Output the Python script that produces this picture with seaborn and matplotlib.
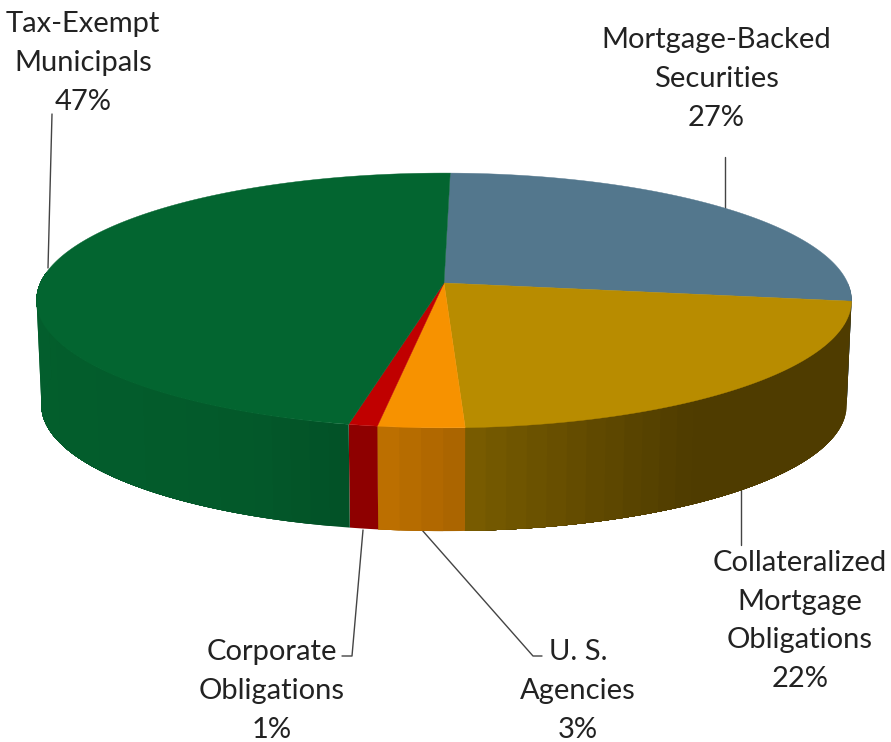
import numpy as np
import matplotlib
matplotlib.use("Agg")
import matplotlib.pyplot as plt
import seaborn as sns

# Portfolio composition, clockwise from twelve o'clock
categories = ["Mortgage-Backed\nSecurities", "Collateralized\nMortgage\nObligations",
              "U. S.\nAgencies", "Corporate\nObligations", "Tax-Exempt\nMunicipals"]
shares = [27, 22, 3, 1, 47]

sns.set_theme(style="white")
plt.rcParams["font.family"] = ["Lato", "DejaVu Sans"]
palette = sns.color_palette(["#53778D", "#B88C00", "#F79200", "#C00000", "#036530"])

# Disc projection (canvas pixels)
CX, CY = 444.0, 283.0
A, B, K = 403.7, 125.0, 0.137
BOTTOM_CY, BOTTOM_SCALE = 388.0, 0.988
START = 1.0

# Side-wall shading knots per slice: x position -> brightness factor
wall_shade = [
    ([0, 1], [0.6, 0.6]),
    ([466, 560, 690], [0.66, 0.56, 0.43]),
    ([378, 466], [0.77, 0.68]),
    ([348, 378], [0.74, 0.74]),
    ([36, 250, 348], [0.93, 0.88, 0.80]),
]


def project(deg, cy=CY, scale=1.0):
    t = np.radians(deg)
    u, v = np.sin(t), np.cos(t)
    w = 1 + K * v
    return CX + scale * A * u / w, cy - scale * B * v / w


fig = plt.figure(figsize=(8.91, 7.42), dpi=100)
ax = fig.add_axes([0, 0, 1, 1])
ax.set_xlim(0, 891)
ax.set_ylim(742, 0)
ax.axis("off")

edges = START + 3.6 * np.concatenate([[0], np.cumsum(shares)])

# Side wall, front half only. Each facet runs on to the slice's far end and the
# next one paints over it, which leaves no antialiasing seams between bands.
for i, color in enumerate(palette):
    lo, hi = max(edges[i], 90.0), min(edges[i + 1], 275.0)
    if hi <= lo:
        continue
    n = max(1, int((hi - lo) / 2.5))
    steps = np.linspace(lo, hi, n + 1)
    for a, b in zip(steps[:-1], steps[1:]):
        arc = np.linspace(a, hi, 60)
        tx, ty = project(arc)
        bx, by = project(arc[::-1], BOTTOM_CY, BOTTOM_SCALE)
        mid_x, _ = project(np.array([(a + b) / 2]))
        shade = tuple(np.array(color) * np.interp(mid_x[0], *wall_shade[i]))
        ax.fill(np.r_[tx, bx], np.r_[ty, by], facecolor=shade, edgecolor="none", zorder=2)

# Top face of each slice
for i, color in enumerate(palette):
    arc = np.linspace(edges[i], edges[i + 1], 200)
    x, y = project(arc)
    ax.fill(np.r_[CX, x], np.r_[CY, y], color=color, lw=0.3, zorder=3)

# Leader lines
leaders = [
    ([725, 725], [157, 208]),
    ([741, 741], [487, 545]),
    ([542, 533, 422], [656, 656, 530]),
    ([342, 352, 363], [656, 656, 530]),
    ([52, 48], [114, 268]),
]
for lx, ly in leaders:
    ax.plot(lx, ly, color="#444444", lw=1.0, zorder=1)

# Labels with name and percentage
label_pos = [(716, 79), (800, 621), (578, 691), (272, 691), (83, 63)]
for name, share, (x, y) in zip(categories, shares, label_pos):
    ax.text(x, y, f"{name}\n{share}%", ha="center", va="center", fontsize=21,
            color="#222222", linespacing=1.6, zorder=5)

fig.savefig("out.png", dpi=100)
